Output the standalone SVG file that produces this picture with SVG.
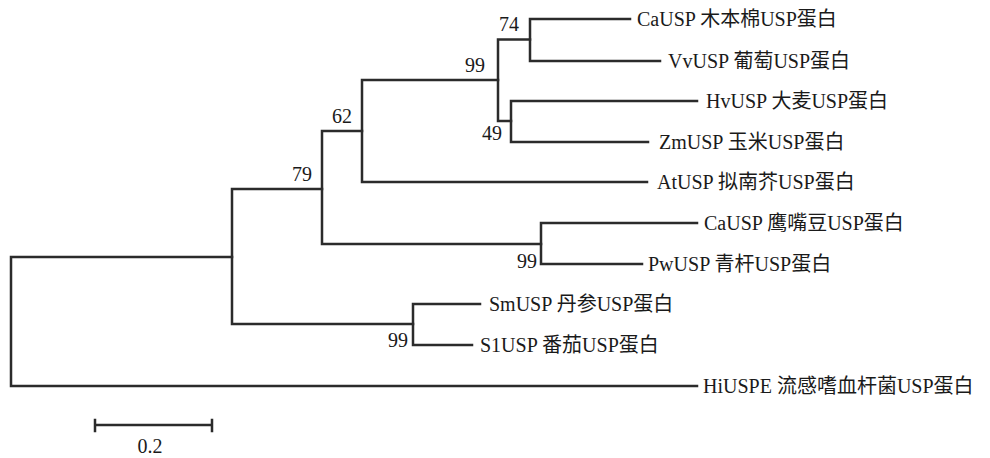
<svg xmlns="http://www.w3.org/2000/svg" width="990" height="458" viewBox="0 0 990 458">
<style>
.br{fill:none;stroke:#2b2b2b;stroke-width:2.5;stroke-linecap:square;stroke-linejoin:miter}
.lb{font-family:"Liberation Serif","Noto Sans CJK SC",serif;font-size:20px;fill:#1a1a1a}
.bs{font-family:"Liberation Serif",serif;font-size:20px;fill:#1a1a1a;text-anchor:end}
</style>
<rect width="990" height="458" fill="#fff"/>
<g id="connectors">
<path class="br" d="M232,257 H11 V386 H697"/>
<path class="br" d="M322,189 H232 V324 H413"/>
<path class="br" d="M362,131 H322 V244 H541"/>
<path class="br" d="M498,80 H362 V182 H647"/>
<path class="br" d="M530,39.5 H498 V121 H511"/>
<path class="br" d="M630,19 H530 V61 H660"/>
<path class="br" d="M697,101 H511 V142 H648"/>
<path class="br" d="M697,223 H541 V264 H642"/>
<path class="br" d="M480,304 H413 V345 H472"/>
</g>
<g id="bootstrap">
<text class="bs" x="519" y="31">74</text>
<text class="bs" x="485" y="72">99</text>
<text class="bs" x="502" y="140">49</text>
<text class="bs" x="352" y="123">62</text>
<text class="bs" x="312" y="181">79</text>
<text class="bs" x="537" y="268">99</text>
<text class="bs" x="408" y="347">99</text>
</g>
<g id="leaf-CaUSP1"><text class="lb" x="637" y="26">CaUSP 木本棉USP蛋白</text></g>
<g id="leaf-VvUSP"><text class="lb" x="668" y="68">VvUSP 葡萄USP蛋白</text></g>
<g id="leaf-HvUSP"><text class="lb" x="706" y="108">HvUSP 大麦USP蛋白</text></g>
<g id="leaf-ZmUSP"><text class="lb" x="659" y="149">ZmUSP 玉米USP蛋白</text></g>
<g id="leaf-AtUSP"><text class="lb" x="657" y="189">AtUSP 拟南芥USP蛋白</text></g>
<g id="leaf-CaUSP2"><text class="lb" x="704" y="230">CaUSP 鹰嘴豆USP蛋白</text></g>
<g id="leaf-PwUSP"><text class="lb" x="648" y="271">PwUSP 青杆USP蛋白</text></g>
<g id="leaf-SmUSP"><text class="lb" x="489" y="311">SmUSP 丹参USP蛋白</text></g>
<g id="leaf-S1USP"><text class="lb" x="480" y="352">S1USP 番茄USP蛋白</text></g>
<g id="leaf-HiUSPE"><text class="lb" x="703" y="393">HiUSPE 流感嗜血杆菌USP蛋白</text></g>
<g id="scale">
<path class="br" d="M95,425 H212 M95,420 V431 M212,420 V431"/>
<text class="lb" x="150" y="453" text-anchor="middle">0.2</text>
</g>
</svg>
